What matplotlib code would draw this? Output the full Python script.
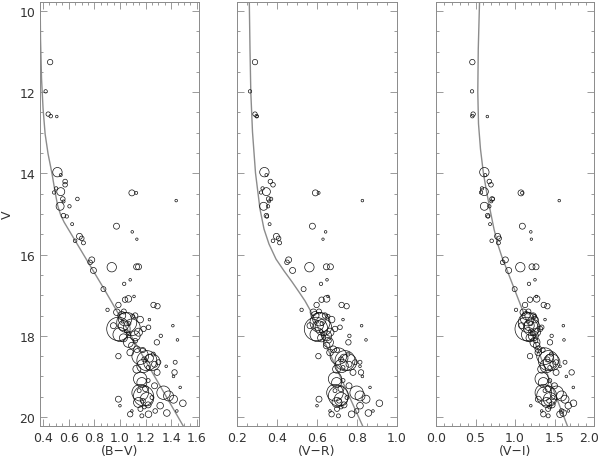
import matplotlib

matplotlib.use("Agg")
import matplotlib.pyplot as plt
import numpy as np
from matplotlib.ticker import MultipleLocator


# star photometry: V, (B-V), (V-R), (V-I), symbol radius (px)
V = [
    11.26, 11.98, 12.54, 12.59, 12.60,
    13.97, 14.04, 14.20, 14.28, 14.37, 14.45, 14.47, 14.63, 14.69, 14.63,
    14.81, 14.81, 15.04, 15.06, 15.25, 14.48, 14.48, 14.67, 15.30, 15.44,
    15.62, 15.55, 15.60, 15.66, 15.71, 16.13, 16.19, 16.39, 16.31, 16.30,
    16.30, 16.62, 16.72, 16.85,
    17.09, 17.11, 17.03, 17.24, 17.24, 17.27, 17.36, 17.60, 17.79, 17.75,
    18.10, 18.00, 18.16, 18.50, 18.65, 18.90, 19.00, 18.75, 19.27, 19.56,
    19.66, 19.85, 19.93, 19.97, 19.93, 19.90, 19.72, 19.85, 19.85,
    17.83, 17.67, 17.79, 17.59, 18.00, 18.16, 17.50, 17.42, 17.75, 17.91,
    17.60, 17.50, 17.75, 18.05, 18.24, 18.33, 17.83, 17.95, 17.70, 17.65,
    17.88, 17.52, 18.12, 17.40, 17.97,
    18.61, 18.50, 18.65, 18.74, 18.82, 18.41, 18.55, 18.70, 18.58, 18.78,
    18.45, 18.90, 18.65, 18.35,
    19.06, 19.15, 19.48, 19.40, 19.56, 19.64, 19.40, 19.48, 19.56, 19.30,
    19.23, 19.60, 19.35, 19.70, 19.52, 19.75, 19.80, 19.10, 19.72,
]
BV = [
    0.455, 0.420, 0.440, 0.460, 0.507,
    0.512, 0.538, 0.572, 0.572, 0.502, 0.538, 0.486, 0.554, 0.560, 0.668,
    0.533, 0.606, 0.559, 0.585, 0.627, 1.093, 1.127, 1.439, 0.973, 1.096,
    1.132, 0.684, 0.702, 0.650, 0.715, 0.780, 0.767, 0.793, 0.936, 1.130,
    1.145, 1.080, 1.033, 0.871,
    1.066, 1.040, 1.110, 0.988, 1.262, 1.293, 0.903, 1.230, 1.223, 1.413,
    1.449, 1.319, 1.288, 0.988, 1.431, 1.426, 1.418, 1.361, 1.470, 0.988,
    1.491, 1.444, 1.080, 1.171, 1.223, 1.366, 1.314, 1.275, 1.093,
    0.988, 1.053, 1.093, 1.040, 1.119, 1.066, 1.014, 0.976, 1.027, 1.145,
    1.158, 1.119, 0.949, 1.027, 1.093, 1.132, 1.184, 1.070, 1.070, 1.020,
    1.045, 1.100, 1.120, 1.030, 1.000,
    1.210, 1.158, 1.249, 1.184, 1.132, 1.080, 1.230, 1.270, 1.190, 1.220,
    1.260, 1.290, 1.300, 1.180,
    1.158, 1.171, 1.184, 1.158, 1.210, 1.145, 1.340, 1.379, 1.418, 1.200,
    1.270, 1.180, 1.150, 1.220, 1.250, 1.190, 1.160, 1.220, 1.000,
]
VR = [
    0.290, 0.265, 0.290, 0.298, 0.300,
    0.337, 0.347, 0.367, 0.380, 0.328, 0.347, 0.320, 0.358, 0.360, 0.370,
    0.333, 0.355, 0.347, 0.350, 0.363, 0.592, 0.608, 0.827, 0.577, 0.643,
    0.630, 0.397, 0.408, 0.380, 0.413, 0.458, 0.450, 0.478, 0.562, 0.647,
    0.667, 0.650, 0.620, 0.533,
    0.648, 0.623, 0.655, 0.598, 0.723, 0.748, 0.523, 0.730, 0.715, 0.823,
    0.845, 0.762, 0.757, 0.607, 0.815, 0.820, 0.827, 0.815, 0.865, 0.610,
    0.912, 0.880, 0.673, 0.707, 0.773, 0.857, 0.815, 0.798, 0.665,
    0.595, 0.615, 0.632, 0.612, 0.648, 0.657, 0.590, 0.582, 0.607, 0.665,
    0.673, 0.640, 0.565, 0.623, 0.648, 0.682, 0.690, 0.630, 0.625, 0.600,
    0.620, 0.655, 0.660, 0.610, 0.600,
    0.740, 0.707, 0.757, 0.723, 0.698, 0.665, 0.735, 0.760, 0.720, 0.730,
    0.755, 0.780, 0.790, 0.700,
    0.690, 0.698, 0.707, 0.690, 0.720, 0.700, 0.798, 0.815, 0.845, 0.720,
    0.760, 0.710, 0.690, 0.735, 0.750, 0.720, 0.700, 0.730, 0.600,
]
VI = [
    0.460, 0.456, 0.470, 0.460, 0.650,
    0.612, 0.624, 0.675, 0.696, 0.582, 0.612, 0.570, 0.709, 0.700, 0.720,
    0.612, 0.675, 0.654, 0.660, 0.684, 1.076, 1.089, 1.560, 1.093, 1.200,
    1.207, 0.780, 0.800, 0.705, 0.790, 0.878, 0.844, 0.920, 1.067, 1.215,
    1.266, 1.253, 1.177, 0.996,
    1.274, 1.190, 1.270, 1.127, 1.364, 1.410, 1.013, 1.380, 1.338, 1.612,
    1.620, 1.464, 1.443, 1.190, 1.633, 1.717, 1.650, 1.570, 1.738, 1.295,
    1.740, 1.675, 1.359, 1.420, 1.570, 1.610, 1.675, 1.590, 1.338,
    1.148, 1.169, 1.211, 1.155, 1.232, 1.253, 1.140, 1.105, 1.180, 1.274,
    1.253, 1.232, 1.084, 1.190, 1.274, 1.295, 1.316, 1.220, 1.200, 1.160,
    1.190, 1.250, 1.260, 1.170, 1.170,
    1.422, 1.380, 1.464, 1.400, 1.338, 1.295, 1.440, 1.480, 1.410, 1.440,
    1.460, 1.520, 1.520, 1.350,
    1.338, 1.359, 1.401, 1.359, 1.443, 1.400, 1.527, 1.590, 1.633, 1.420,
    1.500, 1.430, 1.380, 1.470, 1.480, 1.440, 1.420, 1.440, 1.200,
]
RAD = [
    2.7, 1.7, 2.2, 1.8, 1.3,
    4.7, 1.5, 2.3, 2.3, 1.7, 4.0, 1.7, 2.3, 1.5, 1.8,
    4.0, 1.7, 2.3, 1.7, 1.5, 3.0, 1.5, 1.3, 3.0, 1.3,
    1.2, 3.0, 2.3, 1.8, 2.0, 3.0, 2.3, 3.0, 4.7, 3.0,
    3.0, 1.3, 1.7, 2.5,
    3.3, 2.7, 1.3, 2.7, 2.7, 2.7, 1.7, 1.3, 2.3, 1.3,
    1.3, 1.7, 2.7, 2.7, 2.0, 2.7, 1.3, 1.3, 1.3, 3.0,
    3.3, 1.3, 2.7, 2.0, 3.3, 3.3, 3.3, 2.3, 1.3,
    11.7, 10.0, 8.3, 6.7, 5.0, 5.0, 4.0, 3.3, 5.0, 4.0,
    3.3, 2.7, 3.0, 4.0, 3.3, 3.3, 2.7, 2.0, 2.0, 1.5,
    1.5, 2.0, 2.3, 2.5, 7.0,
    10.0, 8.3, 8.3, 6.7, 4.0, 3.3, 4.0, 3.0, 2.5, 2.0,
    2.0, 3.0, 2.5, 2.5,
    6.7, 5.0, 10.0, 8.3, 6.7, 5.0, 6.7, 5.0, 4.0, 3.0,
    3.0, 2.3, 2.0, 3.0, 2.0, 2.0, 2.5, 2.0, 1.3,
]

# isochrone
ISO_V_BV = [9.78, 10.69, 11.67, 12.41, 13.03, 13.52, 14.01, 14.46, 14.78,
            15.02, 15.20, 16.85, 20.22]
ISO_BV = [0.377, 0.380, 0.388, 0.400, 0.416, 0.439, 0.470, 0.494, 0.513,
          0.537, 0.564, 0.877, 1.494]
ISO_V_VR = [9.78, 10.94, 12.00, 12.98, 13.99, 14.88, 15.37, 15.74, 16.11,
            16.40, 16.67, 16.92, 17.14, 17.36, 20.21]
ISO_VR = [0.2615, 0.265, 0.269, 0.2775, 0.2925, 0.315, 0.335, 0.360, 0.395,
          0.435, 0.475, 0.510, 0.540, 0.565, 0.8275]
ISO_V_VI = [9.78, 10.94, 12.00, 12.78, 13.40, 14.01, 14.51, 14.95, 15.37,
            15.74, 16.06, 20.21]
ISO_VI = [0.551, 0.535, 0.529, 0.538, 0.563, 0.601, 0.646, 0.690, 0.734,
          0.781, 0.835, 1.662]

PANELS = [
    ("(B\u2212V)", BV, ISO_BV, ISO_V_BV, (0.376, 1.617), 0.2, 0.05),
    ("(V\u2212R)", VR, ISO_VR, ISO_V_VR, (0.2, 1.0), 0.2, 0.05),
    ("(V\u2212I)", VI, ISO_VI, ISO_V_VI, (0.0, 2.0), 0.5, 0.1),
]
LEFTS = [40 / 600, 237 / 600, 436 / 600]
WIDTHS = [159 / 600, 160 / 600, 158 / 600]

TEXT = "#333333"
FRAME = "#8a8a8a"

fig = plt.figure(figsize=(6.0, 4.64), dpi=100)
sizes = 2.07 * np.array(RAD) ** 2


def tick_fmt(xmax):
    # last label of the rightmost panel is drawn by hand so it stays inside
    def fmt(v, pos):
        if abs(v - xmax) < 1e-9 and xmax == 2.0:
            return ""
        return f"{v:.1f}"
    return fmt


for i, (label, col, iso_c, iso_v, xlim, major, minor) in enumerate(PANELS):
    ax = fig.add_axes([LEFTS[i], 1 - 427 / 464, WIDTHS[i], 424 / 464])
    ax.plot(iso_c, iso_v, color="#8c8c8c", linewidth=1.0, zorder=1)
    ax.scatter(col, V, s=sizes, facecolors="none", edgecolors="#111111",
               linewidths=0.5, zorder=2)
    ax.set_xlim(*xlim)
    ax.set_ylim(20.22, 9.78)
    ax.xaxis.set_major_locator(MultipleLocator(major))
    ax.xaxis.set_minor_locator(MultipleLocator(minor))
    ax.yaxis.set_major_locator(MultipleLocator(2))
    ax.yaxis.set_minor_locator(MultipleLocator(0.5))
    ax.tick_params(which="both", direction="in", top=True, right=True,
                   color=FRAME, labelcolor=TEXT, labelsize=9)
    ax.tick_params(which="major", length=5, width=0.6)
    ax.tick_params(which="minor", length=2.5, width=0.6)
    ax.xaxis.set_major_formatter(plt.FuncFormatter(tick_fmt(xlim[1])))
    for sp in ax.spines.values():
        sp.set_color(FRAME)
        sp.set_linewidth(0.7)
    ax.set_xlabel(label, color=TEXT, fontsize=9, labelpad=0)
    if i == 0:
        fig.text(7 / 600, 1 - 215 / 464, "V", color=TEXT, fontsize=9,
                 rotation=90, ha="center", va="center")
    else:
        ax.set_yticklabels([])
    if i == 2:
        ax.annotate("2.0", xy=(2.0, 0), xycoords=("data", "axes fraction"),
                    xytext=(-3.5, -3.5), textcoords="offset points",
                    ha="center", va="top", color=TEXT, fontsize=9)

fig.savefig("out.png", dpi=100)
